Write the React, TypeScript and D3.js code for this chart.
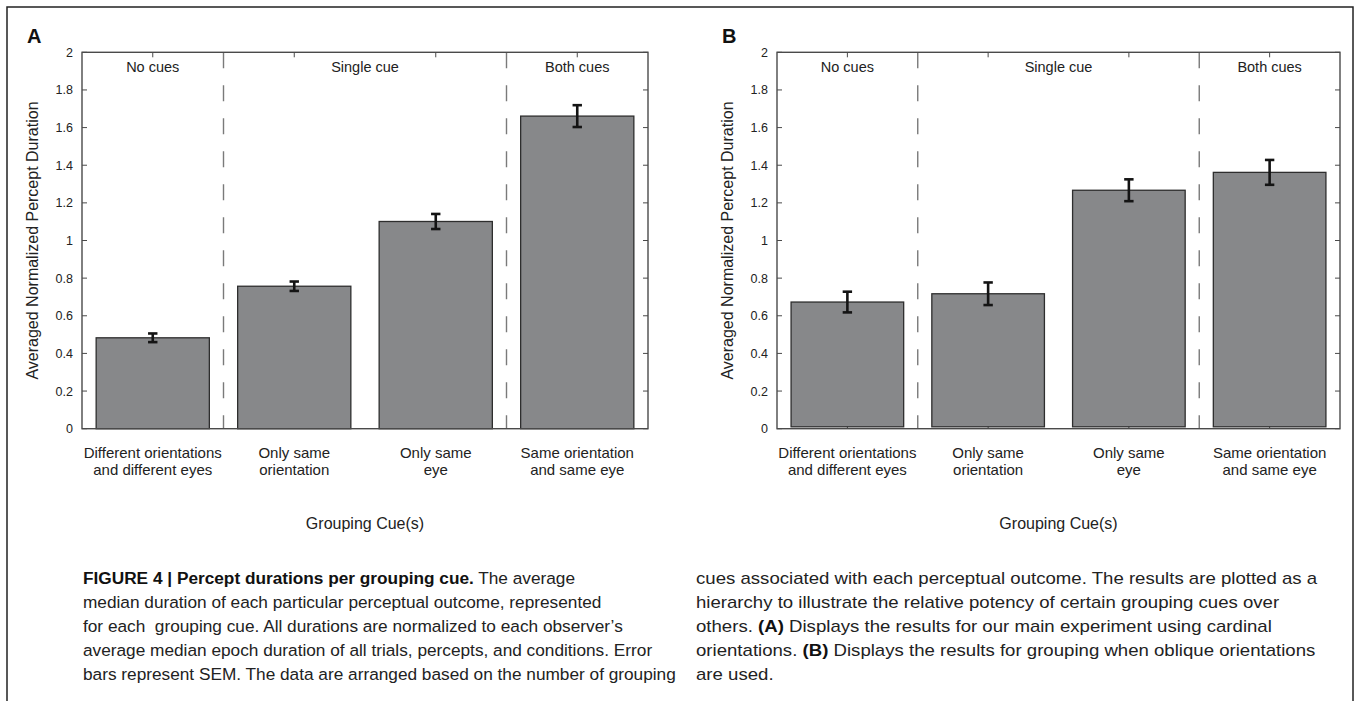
import React from "react";
import * as d3 from "d3";

// ---------- data ----------
const categoryLines: string[][] = [
  ["Different orientations", "and different eyes"],
  ["Only same", "orientation"],
  ["Only same", "eye"],
  ["Same orientation", "and same eye"],
];
const valuesA = [0.483, 0.757, 1.101, 1.661];
const semA = [0.023, 0.025, 0.04, 0.058];
const valuesB = [0.673, 0.717, 1.267, 1.362];
const semB = [0.055, 0.06, 0.058, 0.066];
const baselineA = 0;
const baselineB = 0.01;
const yTicks = [0, 0.2, 0.4, 0.6, 0.8, 1, 1.2, 1.4, 1.6, 1.8, 2];
const groupLabels = ["No cues", "Single cue", "Both cues"];
const groupCenters = [1, 2.5, 4];
const dividers = [1.5, 3.5];
const yLabel = "Averaged Normalized Percept Duration";
const xLabel = "Grouping Cue(s)";

type Seg = { t: string; b?: boolean };
const captionLeft: Seg[][] = [
  [{ t: "FIGURE 4 | Percept durations per grouping cue.", b: true }, { t: " The average" }],
  [{ t: "median duration of each particular perceptual outcome, represented" }],
  [{ t: "for each  grouping cue. All durations are normalized to each observer\u2019s" }],
  [{ t: "average median epoch duration of all trials, percepts, and conditions. Error" }],
  [{ t: "bars represent SEM. The data are arranged based on the number of grouping" }],
];
const captionRight: Seg[][] = [
  [{ t: "cues associated with each perceptual outcome. The results are plotted as a" }],
  [{ t: "hierarchy to illustrate the relative potency of certain grouping cues over" }],
  [{ t: "others. " }, { t: "(A)", b: true }, { t: " Displays the results for our main experiment using cardinal" }],
  [{ t: "orientations. " }, { t: "(B)", b: true }, { t: " Displays the results for grouping when oblique orientations" }],
  [{ t: "are used." }],
];

// ---------- layout ----------
const W = 1354;
const H = 701;
const FONT = "'Liberation Sans', Arial, Helvetica, sans-serif";
const yTop = 52.3;
const yBottom = 428.7;

type PanelProps = {
  letter: string;
  x0: number;
  x1: number;
  values: number[];
  sems: number[];
  baseline: number;
};

function Panel({ letter, x0, x1, values, sems, baseline }: PanelProps) {
  const x = d3.scaleLinear().domain([0.5, 4.5]).range([x0, x1]);
  const y = d3.scaleLinear().domain([0, 2]).range([yBottom, yTop]);
  const unit = x(1) - x(0);
  const barW = unit * 0.8;
  const tickLen = 5;
  const axisColor = "#4a4a4a";
  const idx = values.map((_, i) => i + 1);
  return (
    <g>
      <text x={x0 - 55} y={43} fontFamily={FONT} fontWeight="bold" fontSize={20} fill="#111">
        {letter}
      </text>
      {idx.map((c) => (
        <line key={"bt" + c} x1={x(c)} x2={x(c)} y1={y(0)} y2={y(0) - tickLen} stroke={axisColor} strokeWidth={1} />
      ))}
      {dividers.map((d) => (
        <line
          key={"d" + d}
          x1={x(d)}
          x2={x(d)}
          y1={y(2)}
          y2={y(0)}
          stroke="#7a7a7a"
          strokeWidth={1.4}
          strokeDasharray="16,17"
        />
      ))}
      {values.map((v, i) => (
        <rect
          key={"b" + i}
          x={x(i + 1) - barW / 2}
          y={y(v)}
          width={barW}
          height={y(baseline) - y(v)}
          fill="#87888a"
          stroke="#2e2e2e"
          strokeWidth={1.3}
        />
      ))}
      {values.map((v, i) => {
        const cx = x(i + 1);
        const hi = y(v + sems[i]);
        const lo = y(v - sems[i]);
        return (
          <g key={"e" + i} stroke="#141414" strokeWidth={2.6}>
            <line x1={cx} x2={cx} y1={hi} y2={lo} />
            <line x1={cx - 4.7} x2={cx + 4.7} y1={hi} y2={hi} />
            <line x1={cx - 4.7} x2={cx + 4.7} y1={lo} y2={lo} />
          </g>
        );
      })}
      <rect x={x0} y={y(2)} width={x1 - x0} height={y(0) - y(2)} fill="none" stroke={axisColor} strokeWidth={1.4} />
      {idx.map((c) => (
        <line key={"tt" + c} x1={x(c)} x2={x(c)} y1={y(2)} y2={y(2) + tickLen} stroke={axisColor} strokeWidth={1} />
      ))}
      {yTicks.map((t) => (
        <g key={"yt" + t}>
          <line x1={x0} x2={x0 + tickLen} y1={y(t)} y2={y(t)} stroke={axisColor} strokeWidth={1} />
          <line x1={x1} x2={x1 - tickLen} y1={y(t)} y2={y(t)} stroke={axisColor} strokeWidth={1} />
          <text
            x={x0 - 9}
            y={y(t)}
            dy="0.36em"
            textAnchor="end"
            fontFamily={FONT}
            fontSize={12.5}
            fill="#222"
          >
            {String(t)}
          </text>
        </g>
      ))}
      {groupLabels.map((g, i) => (
        <text
          key={"g" + i}
          x={x(groupCenters[i])}
          y={72}
          textAnchor="middle"
          fontFamily={FONT}
          fontSize={14.5}
          fill="#222"
        >
          {g}
        </text>
      ))}
      {categoryLines.map((lines, i) => (
        <text key={"c" + i} textAnchor="middle" fontFamily={FONT} fontSize={15} fill="#222">
          {lines.map((l, j) => (
            <tspan key={j} x={x(i + 1)} y={457.5 + j * 17.5}>
              {l}
            </tspan>
          ))}
        </text>
      ))}
      <text
        x={(x0 + x1) / 2}
        y={529}
        textAnchor="middle"
        fontFamily={FONT}
        fontSize={16}
        fill="#222"
      >
        {xLabel}
      </text>
      <text
        transform={`translate(${x0 - 44},${(yTop + yBottom) / 2}) rotate(-90)`}
        textAnchor="middle"
        fontFamily={FONT}
        fontSize={16}
        fill="#222"
      >
        {yLabel}
      </text>
    </g>
  );
}

function Caption({ lines, x0, sx }: { lines: Seg[][]; x0: number; sx: number }) {
  return (
    <g transform={`translate(${x0},0) scale(${sx},1)`}>
      {lines.map((segs, i) => (
        <text
          key={i}
          x={0}
          y={584 + i * 24}
          fontFamily={FONT}
          fontSize={17}
          fill="#222"
          style={{ whiteSpace: "pre" }}
        >
          {segs.map((s, j) => (
            <tspan key={j} fontWeight={s.b ? "bold" : "normal"} fill={s.b ? "#111" : "#222"}>
              {s.t}
            </tspan>
          ))}
        </text>
      ))}
    </g>
  );
}

export default function App() {
  return (
    <div style={{ position: "absolute", left: 0, top: 0 }}>
      <svg width={W} height={H} style={{ display: "block", background: "#fff" }}>
        <rect x={0} y={0} width={W} height={H} fill="#fff" />
        <rect x={7} y={7} width={1346} height={H + 20} fill="none" stroke="#222" strokeWidth={1.5} />
        <Panel letter="A" x0={82} x1={648} values={valuesA} sems={semA} baseline={baselineA} />
        <Panel letter="B" x0={777} x1={1340} values={valuesB} sems={semB} baseline={baselineB} />
        <Caption lines={captionLeft} x0={83} sx={1.015} />
        <Caption lines={captionRight} x0={696} sx={1.095} />
      </svg>
    </div>
  );
}
